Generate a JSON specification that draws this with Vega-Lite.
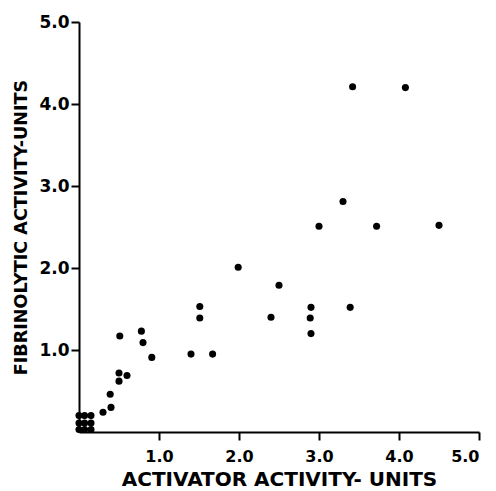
{
  "$schema": "https://vega.github.io/schema/vega-lite/v6.json",
  "width": 400,
  "height": 410,
  "autosize": "none",
  "padding": {"left": 79, "top": 22, "right": 17, "bottom": 59},
  "background": "white",
  "config": {
    "view": {"stroke": null},
    "axis": {
      "grid": false,
      "domainColor": "black",
      "domainWidth": 2,
      "tickColor": "black",
      "tickWidth": 2,
      "tickSize": 8,
      "labelFont": "DejaVu Sans",
      "labelFontWeight": "bold",
      "labelColor": "black",
      "titleFont": "DejaVu Sans",
      "titleFontWeight": "bold",
      "titleColor": "black"
    }
  },
  "data": {
    "values": [
      {"activator": 3.42, "fibrinolytic": 4.21},
      {"activator": 4.08, "fibrinolytic": 4.20},
      {"activator": 3.30, "fibrinolytic": 2.81},
      {"activator": 3.00, "fibrinolytic": 2.51},
      {"activator": 3.72, "fibrinolytic": 2.51},
      {"activator": 4.50, "fibrinolytic": 2.52},
      {"activator": 1.99, "fibrinolytic": 2.01},
      {"activator": 2.50, "fibrinolytic": 1.79},
      {"activator": 1.51, "fibrinolytic": 1.53},
      {"activator": 1.51, "fibrinolytic": 1.39},
      {"activator": 2.90, "fibrinolytic": 1.52},
      {"activator": 2.89, "fibrinolytic": 1.39},
      {"activator": 3.39, "fibrinolytic": 1.52},
      {"activator": 2.40, "fibrinolytic": 1.40},
      {"activator": 2.90, "fibrinolytic": 1.20},
      {"activator": 1.67, "fibrinolytic": 0.95},
      {"activator": 1.40, "fibrinolytic": 0.95},
      {"activator": 0.51, "fibrinolytic": 1.17},
      {"activator": 0.78, "fibrinolytic": 1.23},
      {"activator": 0.80, "fibrinolytic": 1.09},
      {"activator": 0.91, "fibrinolytic": 0.91},
      {"activator": 0.50, "fibrinolytic": 0.72},
      {"activator": 0.60, "fibrinolytic": 0.69},
      {"activator": 0.50, "fibrinolytic": 0.62},
      {"activator": 0.39, "fibrinolytic": 0.46},
      {"activator": 0.40, "fibrinolytic": 0.30},
      {"activator": 0.30, "fibrinolytic": 0.24},
      {"activator": 0.00, "fibrinolytic": 0.20},
      {"activator": 0.07, "fibrinolytic": 0.20},
      {"activator": 0.15, "fibrinolytic": 0.20},
      {"activator": 0.00, "fibrinolytic": 0.11},
      {"activator": 0.07, "fibrinolytic": 0.11},
      {"activator": 0.15, "fibrinolytic": 0.11},
      {"activator": 0.00, "fibrinolytic": 0.03},
      {"activator": 0.07, "fibrinolytic": 0.03},
      {"activator": 0.15, "fibrinolytic": 0.03}
    ]
  },
  "mark": {"type": "point", "filled": true, "shape": "circle", "color": "black", "opacity": 1, "size": 50},
  "encoding": {
    "x": {
      "field": "activator",
      "type": "quantitative",
      "scale": {"domain": [0, 5], "nice": false, "zero": true},
      "axis": {
        "title": "ACTIVATOR ACTIVITY- UNITS",
        "values": [1, 2, 3, 4, 5],
        "format": ".1f",
        "labelFontSize": 16,
        "labelPadding": 8,
        "titleFontSize": 20,
        "titlePadding": 5
      }
    },
    "y": {
      "field": "fibrinolytic",
      "type": "quantitative",
      "scale": {"domain": [0, 5], "nice": false, "zero": true},
      "axis": {
        "title": "FIBRINOLYTIC  ACTIVITY-UNITS",
        "values": [1, 2, 3, 4, 5],
        "format": ".1f",
        "labelFontSize": 17,
        "labelPadding": 2,
        "titleFontSize": 17.6,
        "titlePadding": 8
      }
    }
  }
}
